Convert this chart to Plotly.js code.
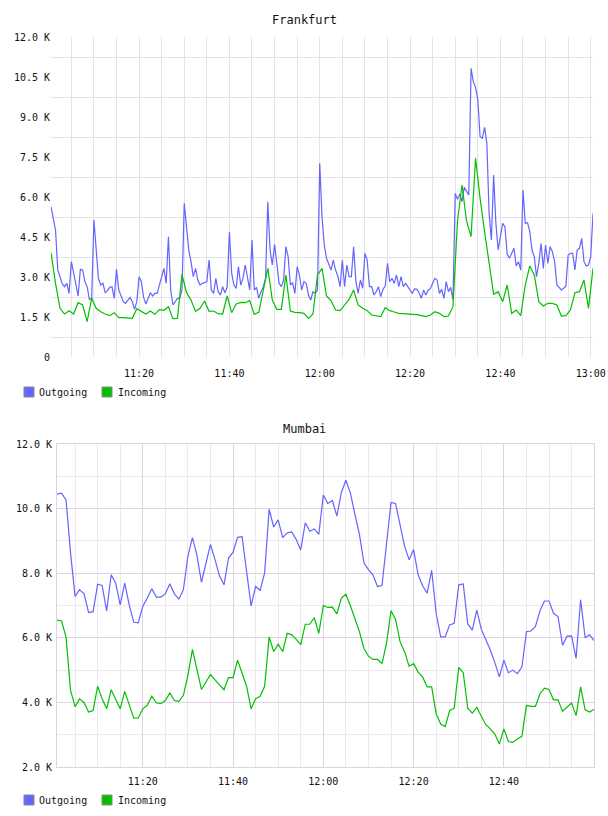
<!DOCTYPE html>
<html>
<head>
<meta charset="utf-8">
<script src="https://cdn.plot.ly/plotly-3.0.1.min.js"></script>
<style>
  html, body { margin: 0; padding: 0; background: #ffffff; }
  #chart { width: 608px; height: 816px; }
</style>
</head>
<body>
<div id="chart"></div>
<script>
// ---- Frankfurt: outgoing sampled every 30 s, incoming every minute, from 11:00:30 ----
const frankfurtOutgoing = [
  5637, 5137, 4762, 3262, 2950, 2737, 2637, 2762, 2387, 3575,
  3162, 2637, 2287, 3287, 3262, 2825, 2637, 2162, 2200, 5137,
  4012, 2950, 2700, 2762, 2412, 2487, 2612, 2637, 2200, 3287,
  2512, 2262, 2075, 2012, 2112, 2237, 2075, 1787, 2075, 3012,
  2825, 2237, 1987, 2200, 2412, 2287, 2387, 2387, 2700, 3012,
  3325, 2762, 4512, 2512, 1950, 2075, 2200, 2200, 2512, 5762,
  4825, 4012, 3575, 3012, 3325, 2887, 2700, 2762, 2787, 2825,
  3637, 2512, 2387, 2950, 2450, 2325, 2637, 2412, 2612, 4700,
  3137, 2700, 2575, 3387, 2700, 2950, 3450, 2950, 2512, 4387,
  2512, 2612, 2200, 2450, 2637, 2950, 5825, 4012, 3450, 4225,
  3575, 2762, 2637, 2887, 4137, 3762, 2700, 2787, 2387, 3387,
  3075, 2512, 2825, 2762, 2325, 2137, 2450, 2387, 2512, 7262,
  5262, 4200, 3700, 3450, 3262, 3637, 3262, 3037, 2637, 3637,
  2637, 3450, 3012, 3012, 4137, 2825, 2387, 2887, 2575, 3887,
  3637, 2637, 2637, 2325, 2450, 2637, 2262, 2537, 2662, 3512,
  2825, 2950, 2762, 3075, 2637, 3012, 2637, 2762, 2637, 2512,
  2387,
  2550, 2537, 2412, 2200, 2512, 2325, 2512, 2562, 2762, 2950,
  2887, 2387, 2537, 2200, 2825, 2450, 2612, 2137, 6137, 5912,
  6112, 5825, 6362, 6200, 6075, 10825, 10325, 10112, 9637, 8262,
  8200, 8612, 8012, 5387, 4387, 6825, 5012, 4012, 4512, 5012,
  4887, 3862, 3700, 3862, 4075, 3412, 3575, 3262, 6262, 5012,
  5037, 4700, 4012, 3762, 3012, 3512, 4262, 3325, 4200, 3512,
  4137, 3950, 3575, 2700, 2612, 2512, 2575, 2662, 3825, 3887,
  3887, 3262, 4012, 4075, 4450, 3575, 3412, 3450, 3762, 5387
];
const frankfurtIncoming = [
  3912, 2762, 1825, 1612, 1737, 1612, 2037, 1950, 1325, 2200,
  1825, 1700, 1612, 1550, 1662, 1475, 1475, 1462, 1450, 1812,
  1712, 1612, 1725, 1600, 1775, 1750, 1887, 1437, 1450, 3100,
  2412, 2137, 1712, 1825, 2100, 1712, 1725, 1625, 1612, 2287,
  1662,
  1987, 2050, 2037, 2112, 1600, 1675, 2512, 3325, 2137, 1787,
  1787, 3075, 1725, 1675, 1662, 1637, 1450, 1612, 3075, 3325,
  2287, 2112, 1762, 1737, 1950, 2162, 2512, 1950, 1825, 1737,
  1575, 1550, 1512, 1850, 1737, 1687, 1637, 1625, 1625, 1600,
  1587, 1562, 1512, 1575, 1700, 1637, 1512, 1537, 1887, 5100,
  6450, 5100, 4512, 7450, 5950, 4700, 3512, 2350, 2450, 2075,
  2700, 1637, 1762, 1550, 2700, 3412, 3075, 2075, 1912, 2012,
  2012, 1950, 1537, 1550, 1762, 2412, 2450, 2887, 1825, 3325
];

// ---- Mumbai: both series sampled every minute, from 11:01 ----
const mumbaiOutgoing = [
  10450, 10480, 10270, 8630, 7280, 7490, 7360, 6780, 6810, 7660,
  7620, 6830, 7950, 7690, 7020, 7690, 7020, 6480, 6460, 6970,
  7230, 7520, 7260, 7260, 7360, 7670, 7360, 7200, 7490, 8530,
  9100, 8560, 7720, 8320, 8890, 8420, 7920, 7640, 8470, 8650,
  9110, 9130, 8060, 6990, 7590, 7470, 8010, 9980, 9430, 9650,
  9100, 9250, 9280, 9040, 8720, 9560, 9300, 9370, 9200, 10420,
  10160, 10250, 9770, 10500, 10880, 10480, 9820, 9200, 8320, 8110,
  7950, 7590, 7620, 8890, 10190, 10160, 9530, 8840, 8420, 8730,
  7950, 7610, 7380, 8090, 6760, 6030, 6030, 6400, 6450, 7640,
  7670, 6430, 6240, 6860, 6260, 5930, 5620, 5230, 4790, 5310,
  4920, 5000, 4890, 5100, 6190, 6210, 6350, 6840, 7140, 7140,
  6760, 6660, 5770, 6050, 6060, 5360, 7180, 6010, 6090, 5910
];
const mumbaiIncoming = [
  6550, 6520, 6030, 4370, 3870, 4110, 3990, 3700, 3750, 4500,
  4110, 3800, 4390, 4110, 3800, 4340, 3910, 3510, 3520, 3800,
  3910, 4190, 3990, 3960, 4060, 4290, 4060, 4030, 4220, 4840,
  5640, 5000, 4400, 4630, 4860, 4700, 4550, 4390, 4770, 4770,
  5310, 4910, 4500, 3800, 4110, 4190, 4500, 6030, 5570, 5800,
  5570, 6140, 6090, 5950, 5790, 6420, 6420, 6620, 6140, 7000,
  6940, 6950, 6740, 7230, 7350, 6990, 6600, 6190, 5670, 5430,
  5330, 5330, 5200, 5830, 6840, 6570, 5880, 5570, 5120, 5200,
  4940, 4790, 4480, 4480, 3650, 3330, 3250, 3750, 3820, 5080,
  4920, 3820, 3670, 3850, 3570, 3310, 3180, 3020, 2710, 3180,
  2790, 2760, 2870, 2950, 3910, 3880, 3880, 4270, 4440, 4400,
  4080, 4080, 3730, 3870, 3980, 3590, 4480, 3770, 3700, 3790
];

// ---- tick labels ----
const frankfurtTickVals = [0, 1500, 3000, 4500, 6000, 7500, 9000, 10500, 12000];
const frankfurtTickText = ['0', '1.5 K', '3.0 K', '4.5 K', '6.0 K', '7.5 K', '9.0 K', '10.5 K', '12.0 K'];
const mumbaiTickVals = [2000, 4000, 6000, 8000, 10000, 12000];
const mumbaiTickText = ['2.0 K', '4.0 K', '6.0 K', '8.0 K', '10.0 K', '12.0 K'];
const seriesNames = ['Outgoing', 'Incoming'];
const siteNames = ['Frankfurt', 'Mumbai'];

// ---- time helpers ----
const DAY = '2024-05-14';
function pad(n) { return String(n).padStart(2, '0'); }
function clock(sec) {
  const h = Math.floor(sec / 3600), m = Math.floor((sec % 3600) / 60), s = sec % 60;
  return DAY + ' ' + pad(h) + ':' + pad(m) + ':' + pad(s);
}
function timeline(startSec, stepSec, count) {
  const out = [];
  for (let i = 0; i < count; i++) out.push(clock(startSec + i * stepSec));
  return out;
}
const H11 = 11 * 3600;

const OUT_COLOR = '#6464ff';
const IN_COLOR = '#00c000';
const FONT = 'DejaVu Sans Mono, monospace';

const W = 608, H = 816;
const px = x => x / W;
const py = y => 1 - y / H;

const traces = [
  { x: timeline(H11 + 30, 30, frankfurtOutgoing.length), y: frankfurtOutgoing, name: seriesNames[0],
    type: 'scatter', mode: 'lines', line: { color: OUT_COLOR, width: 1.2 }, xaxis: 'x', yaxis: 'y', showlegend: false },
  { x: timeline(H11 + 30, 60, frankfurtIncoming.length), y: frankfurtIncoming, name: seriesNames[1],
    type: 'scatter', mode: 'lines', line: { color: IN_COLOR, width: 1.2 }, xaxis: 'x', yaxis: 'y', showlegend: false },
  { x: timeline(H11 + 60, 60, mumbaiOutgoing.length), y: mumbaiOutgoing, name: seriesNames[0],
    type: 'scatter', mode: 'lines', line: { color: OUT_COLOR, width: 1.2 }, xaxis: 'x2', yaxis: 'y2', showlegend: false },
  { x: timeline(H11 + 60, 60, mumbaiIncoming.length), y: mumbaiIncoming, name: seriesNames[1],
    type: 'scatter', mode: 'lines', line: { color: IN_COLOR, width: 1.2 }, xaxis: 'x2', yaxis: 'y2', showlegend: false }
];

const tickFont = { family: FONT, size: 10, color: '#111111' };
const GRID = '#e4e4e4';
const PINK = '#e4d0e4';
const LIGHT = '#eee8ee';

// legend keys under each panel
const shapes = [];
const annotations = [];
function legendRow(yCenter) {
  const keys = [[24, 39, OUT_COLOR, seriesNames[0]], [102, 118, IN_COLOR, seriesNames[1]]];
  keys.forEach(([x0, tx, color, label]) => {
    shapes.push({ type: 'rect', xref: 'paper', yref: 'paper',
      x0: px(x0), x1: px(x0 + 10), y0: py(yCenter + 5), y1: py(yCenter - 5),
      fillcolor: color, line: { color: '#8a8a8a', width: 1 } });
    annotations.push({ xref: 'paper', yref: 'paper', x: px(tx - 2), y: py(yCenter),
      xanchor: 'left', yanchor: 'middle', showarrow: false, text: label,
      font: { family: FONT, size: 10, color: '#111111' } });
  });
}
legendRow(392);
legendRow(800);

annotations.push({ xref: 'paper', yref: 'paper', x: px(304), y: py(20), xanchor: 'center', yanchor: 'middle',
  showarrow: false, text: siteNames[0], font: { family: FONT, size: 12, color: '#111111' } });
annotations.push({ xref: 'paper', yref: 'paper', x: px(304), y: py(429), xanchor: 'center', yanchor: 'middle',
  showarrow: false, text: siteNames[1], font: { family: FONT, size: 12, color: '#111111' } });

const layout = {
  width: W, height: H, autosize: false,
  margin: { l: 0, r: 0, t: 0, b: 0, pad: 0 },
  paper_bgcolor: '#ffffff', plot_bgcolor: '#ffffff',
  showlegend: false,
  font: { family: FONT, size: 10, color: '#111111' },
  xaxis: {
    type: 'date', domain: [px(51), px(593)], anchor: 'y',
    range: [clock(H11 + 30), clock(13 * 3600 + 30)],
    tickmode: 'linear', tick0: clock(H11), dtick: 20 * 60000, tickformat: '%H:%M',
    showgrid: true, gridcolor: GRID, gridwidth: 1,
    minor: { tickmode: 'linear', tick0: clock(H11), dtick: 5 * 60000, showgrid: true, gridcolor: GRID, gridwidth: 1 },
    zeroline: false, showline: false, ticks: '', ticklabelstandoff: 9, tickfont: tickFont, fixedrange: true
  },
  yaxis: {
    domain: [py(357), py(37)], anchor: 'x', range: [0, 12000],
    tickmode: 'array', tickvals: frankfurtTickVals, ticktext: frankfurtTickText,
    showgrid: false,
    minor: { tickmode: 'linear', tick0: 750, dtick: 1500, showgrid: true, gridcolor: GRID, gridwidth: 1 },
    zeroline: false, showline: false, ticks: '', tickfont: tickFont, fixedrange: true
  },
  xaxis2: {
    type: 'date', domain: [px(57), px(594)], anchor: 'y2',
    range: [clock(H11 + 60), clock(13 * 3600 - 2)],
    tickmode: 'linear', tick0: clock(H11), dtick: 20 * 60000, tickformat: '%H:%M',
    showgrid: true, gridcolor: PINK, gridwidth: 1,
    minor: { tickmode: 'linear', tick0: clock(H11), dtick: 5 * 60000, showgrid: true, gridcolor: LIGHT, gridwidth: 1 },
    zeroline: false, showline: true, mirror: true, linecolor: PINK, linewidth: 1,
    ticks: '', ticklabelstandoff: 5, tickfont: tickFont, fixedrange: true
  },
  yaxis2: {
    domain: [py(767), py(444)], anchor: 'x2', range: [2000, 12000],
    tickmode: 'array', tickvals: mumbaiTickVals, ticktext: mumbaiTickText,
    showgrid: true, gridcolor: PINK, gridwidth: 1,
    minor: { tickmode: 'linear', tick0: 1000, dtick: 2000, showgrid: true, gridcolor: LIGHT, gridwidth: 1 },
    zeroline: false, showline: true, mirror: true, linecolor: PINK, linewidth: 1,
    ticks: '', ticklabelstandoff: 2, tickfont: tickFont, fixedrange: true
  },
  shapes: shapes,
  annotations: annotations
};

Plotly.newPlot('chart', traces, layout, { staticPlot: true, displayModeBar: false });
</script>
</body>
</html>
